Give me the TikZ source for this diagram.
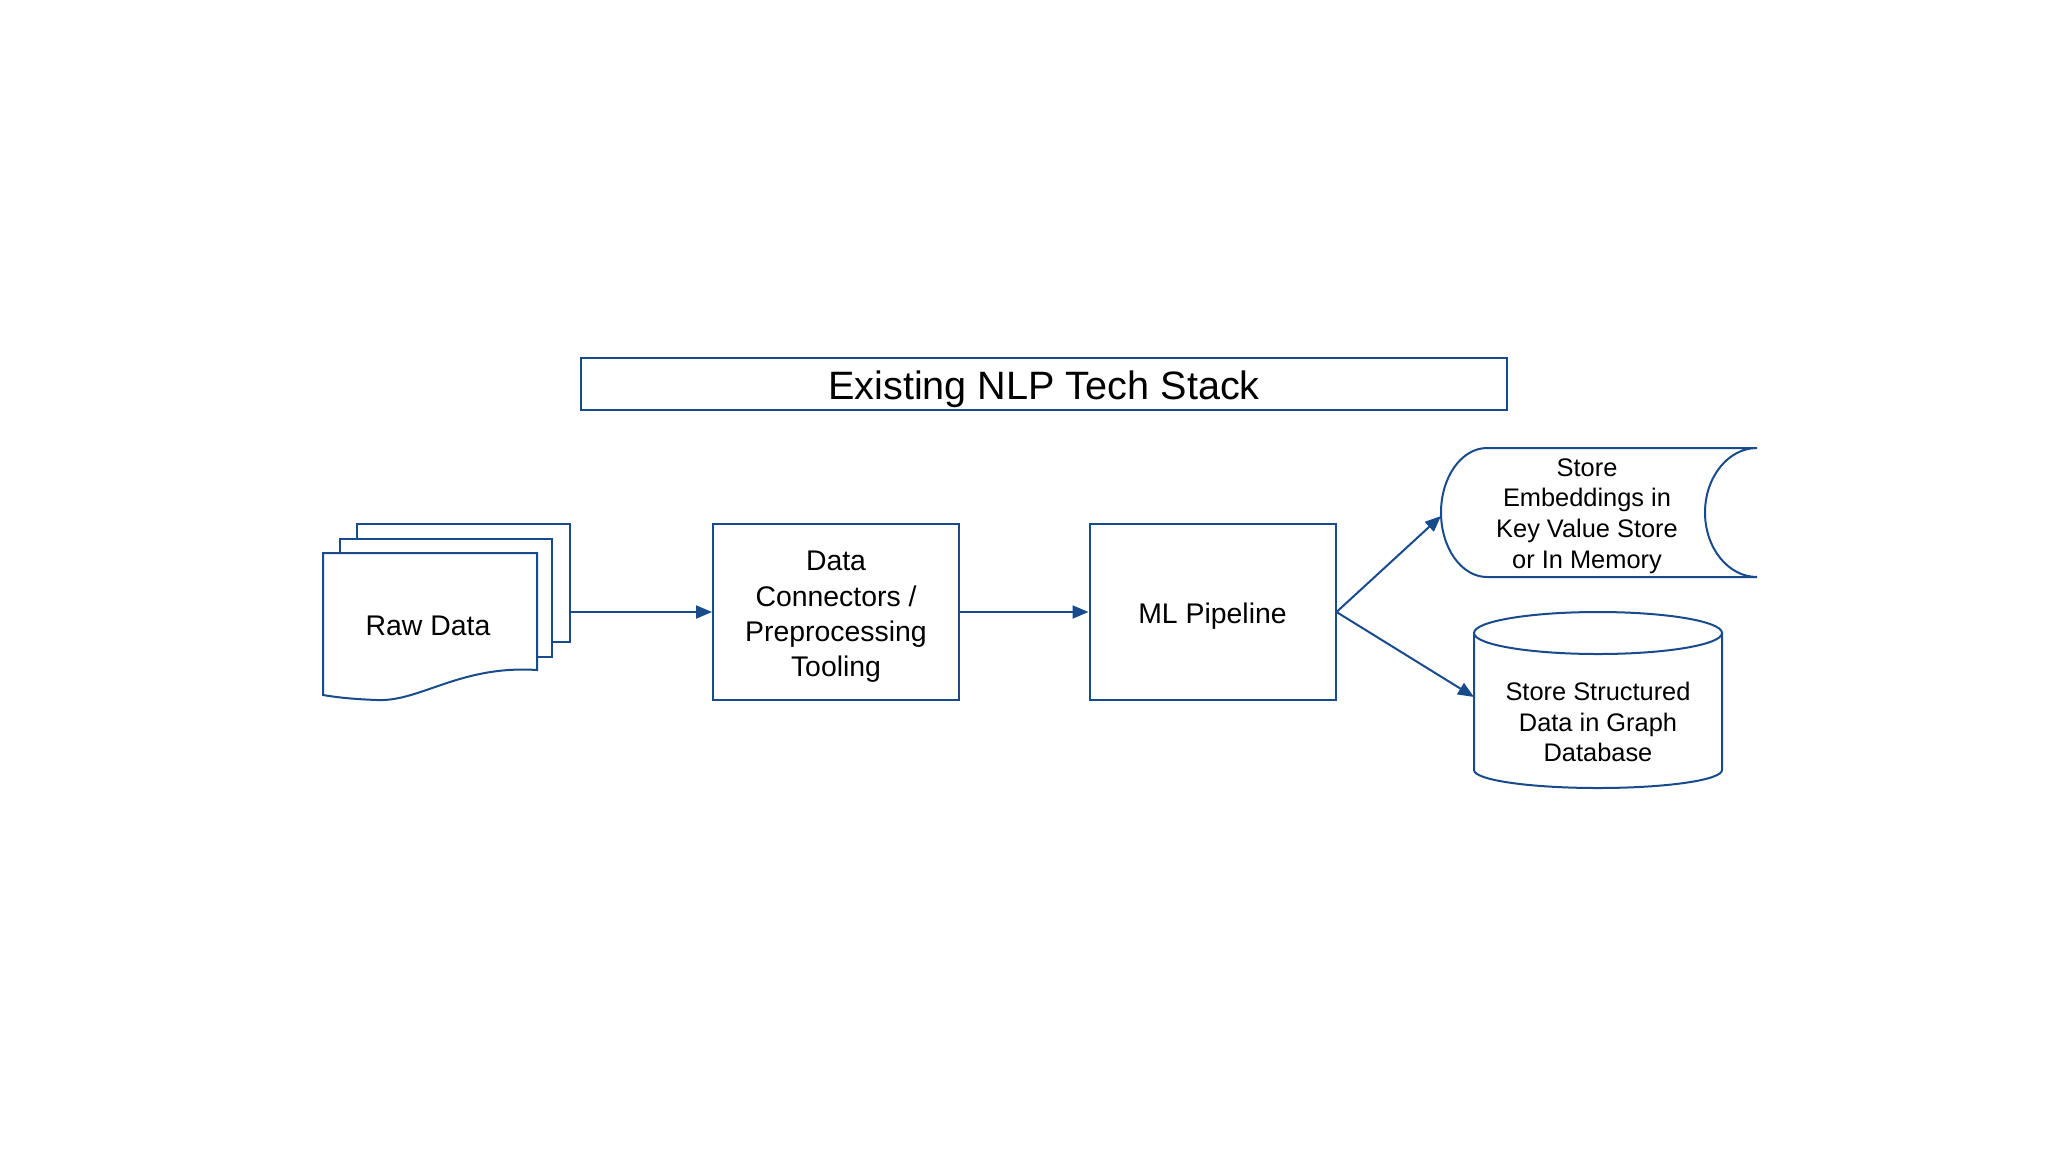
\documentclass[tikz,border=0pt]{standalone}
\usepackage{fontspec}
\setmainfont{Liberation Sans}
\usetikzlibrary{arrows.meta}
\definecolor{dblue}{RGB}{24,75,140}
\begin{document}
\begin{tikzpicture}[x=0.5pt,y=-0.5pt,
  shp/.style={draw=dblue, line width=1pt, fill=white},
  procbox/.style={draw=dblue, line width=1pt, minimum width=123pt, minimum height=88pt, inner sep=0pt},
  txt/.style={font=\fontsize{14.2pt}{17.7pt}\selectfont, align=center, text=black, inner sep=0pt},
  smalltxt/.style={font=\fontsize{12.7pt}{15.3pt}\selectfont, align=center, text=black, inner sep=0pt},
  conn/.style={draw=dblue, line width=1pt, -{Triangle[length=8pt,width=6.5pt]}}
]
\useasboundingbox (0,0) rectangle (2048,1152);

% title
\node[draw=dblue, line width=1pt, minimum width=463pt, minimum height=26pt, inner sep=0pt] (title) at (1044,384) {};
\node[font=\fontsize{19.8pt}{22pt}\selectfont, inner sep=0pt] (titletext) at (1044,389) {Existing NLP Tech Stack};

% raw data stacked documents
\draw[shp] (357,524) rectangle (570,642);
\draw[shp] (340,539) rectangle (552,657);
\draw[shp] (323,553) -- (537,553) -- (537,670)
  .. controls (460,665) and (420,702) .. (377,700)
  .. controls (350,699) and (335,697) .. (323,695) -- cycle;
\node[txt] (raw) at (428,626) {Raw Data};
\coordinate (rawout) at (570,612);

% process boxes
\node[procbox] (dc) at (836,612) {};
\node[txt] (dctext) at (836,617) {Data\\Connectors /\\Preprocessing\\Tooling};
\node[procbox] (ml) at (1212.5,612) {};
\node[txt] (mltext) at (1212.5,616) {ML Pipeline};

% stored data shape
\draw[shp] (1487,448) -- (1757,448)
  .. controls (1728.3,448) and (1705,476.9) .. (1705,512.5)
  .. controls (1705,548.1) and (1728.3,577) .. (1757,577)
  -- (1487,577)
  .. controls (1461.6,577) and (1441,548.1) .. (1441,512.5)
  .. controls (1441,476.9) and (1461.6,448) .. (1487,448) -- cycle;
\node[smalltxt] (kv) at (1587,516) {Store\\Embeddings in\\Key Value Store\\or In Memory};
\coordinate (kvin) at (1441,516);

% cylinder
\draw[shp] (1474,633) -- (1474,770)
  .. controls (1474,780) and (1529.5,788) .. (1598,788)
  .. controls (1666.5,788) and (1722,780) .. (1722,770)
  -- (1722,633);
\draw[shp] (1598,633) ellipse [x radius=62pt, y radius=10.5pt];
\node[smalltxt] (gdb) at (1598,722) {Store Structured\\Data in Graph\\Database};
\coordinate (gdbin) at (1474,697);

% connectors
\draw[conn] (rawout) -- (dc.west);
\draw[conn] (dc.east) -- (ml.west);
\draw[conn] (ml.east) -- (kvin);
\draw[conn] (ml.east) -- (gdbin);
\end{tikzpicture}
\end{document}
